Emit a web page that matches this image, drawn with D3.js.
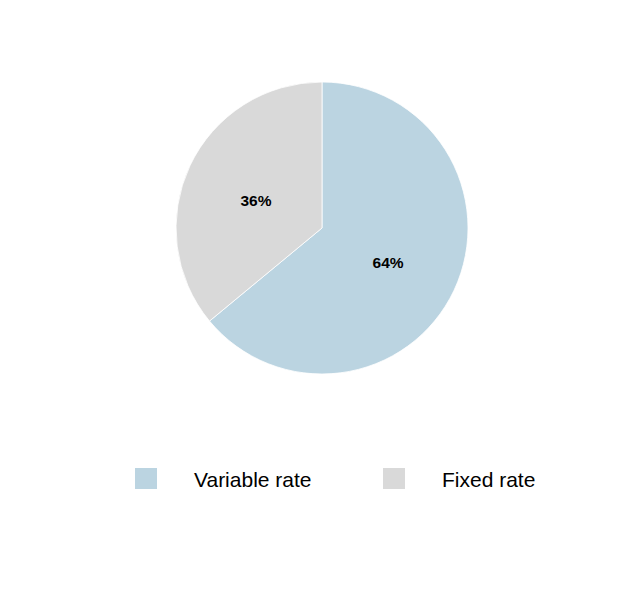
<!DOCTYPE html>
<html>
<head>
<meta charset="utf-8">
<script src="https://cdn.jsdelivr.net/npm/d3@7"></script>
<style>
  html, body { margin: 0; padding: 0; background: #fff; }
  svg { display: block; font-family: "Liberation Sans", Arial, sans-serif; }
</style>
</head>
<body>
<svg id="chart" width="644" height="600"></svg>
<script>
const categories = ["Variable rate", "Fixed rate"];
const values = [64, 36];
const labels = ["64%", "36%"];
const colors = ["#bbd4e1", "#d9d9d9"];

const svg = d3.select("#chart");
const cx = 322, cy = 228, R = 146;

const pie = d3.pie().sort(null).value(d => d.value);
const data = categories.map((c, i) => ({ name: c, value: values[i], label: labels[i] }));
const arcs = pie(data);
const arc = d3.arc().innerRadius(0).outerRadius(R);
const labelArc = d3.arc().innerRadius(R * 0.5).outerRadius(R * 0.5);
const color = d3.scaleOrdinal().domain(categories).range(colors);

const g = svg.append("g").attr("transform", `translate(${cx},${cy})`);
g.selectAll("path").data(arcs).join("path")
  .attr("d", arc)
  .attr("fill", d => color(d.data.name))
  .attr("stroke", "#fff")
  .attr("stroke-width", 0.8);

g.selectAll("text").data(arcs).join("text")
  .attr("transform", d => `translate(${labelArc.centroid(d)})`)
  .attr("text-anchor", "middle")
  .attr("dy", "0.6em")
  .attr("font-size", 15.5)
  .attr("font-weight", "bold")
  .attr("fill", "#000")
  .text(d => d.data.label);

const legendX = d3.scaleOrdinal().domain(categories).range([135, 383]);
const lg = svg.append("g");
const items = lg.selectAll("g").data(categories).join("g")
  .attr("transform", d => `translate(${legendX(d)},468)`);
items.append("rect").attr("width", 22).attr("height", 21).attr("fill", d => color(d));
items.append("text").attr("x", 59).attr("y", 19)
  .attr("font-size", 21).attr("fill", "#000").text(d => d);
</script>
</body>
</html>
